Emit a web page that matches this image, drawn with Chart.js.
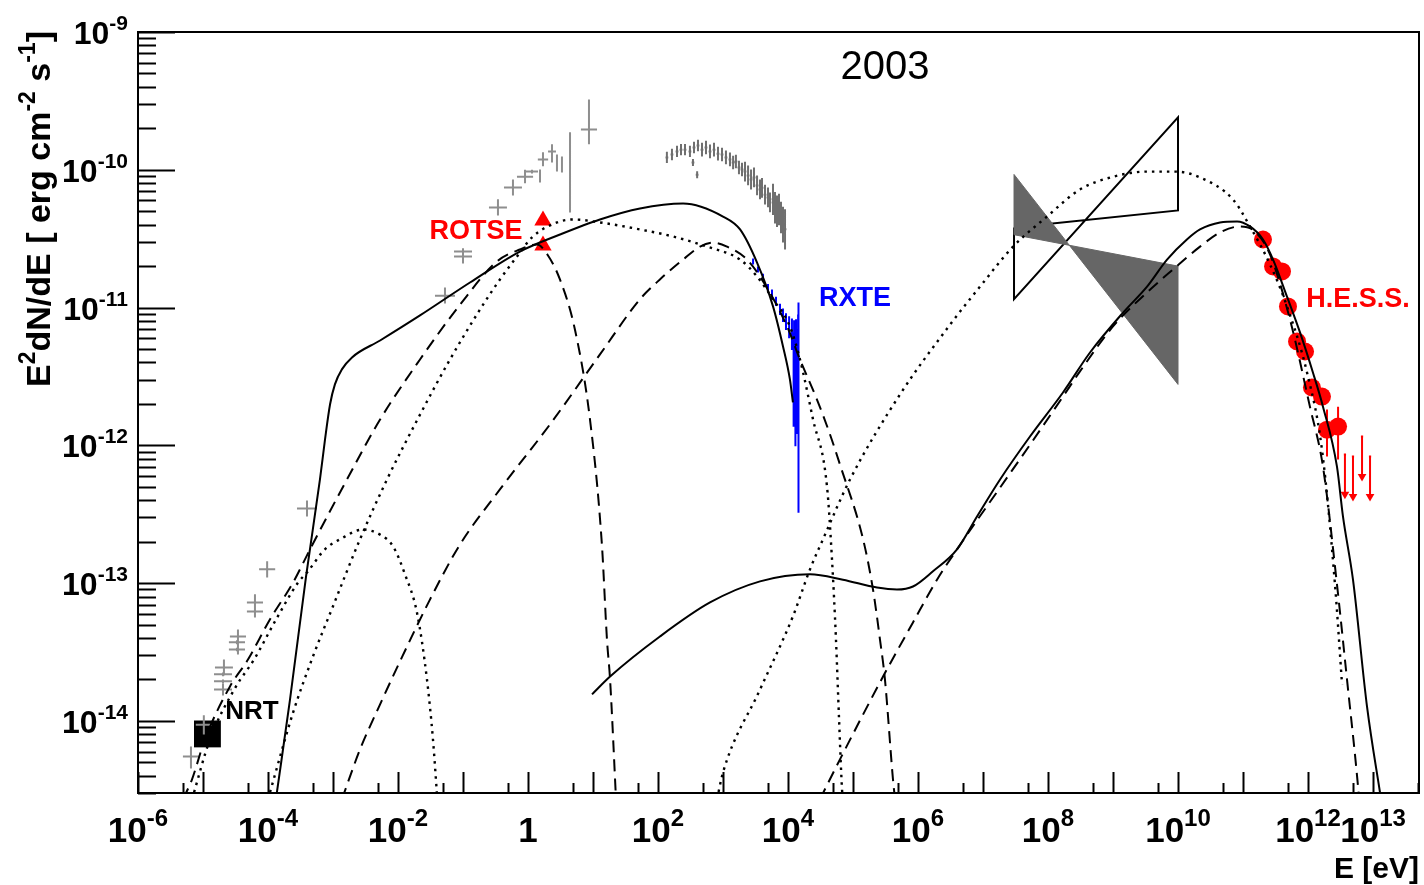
<!DOCTYPE html>
<html>
<head>
<meta charset="utf-8">
<script src="https://cdn.jsdelivr.net/npm/chart.js@4.4.1/dist/chart.umd.min.js"></script>
<style>
  body { margin: 0; background: #fff; overflow: hidden; }
  canvas { display: block; }
</style>
</head>
<body>
<canvas id="sed" width="1424" height="885"></canvas>
<script>
// axis ranges and tick labels (E in eV, E^2 dN/dE in erg cm^-2 s^-1)
const eMin = 1e-6, eMax = 5.1e13;
const fMin = 3e-15, fMax = 1e-9;
const xLabelExps = [-6, -4, -2, 0, 2, 4, 6, 8, 10, 12, 13];
const yLabelExps = [-9, -10, -11, -12, -13, -14];

// model curves
const synTotalE = [1.37e-4, 2.18e-4, 3.85e-4, 6.3e-4, 7.53e-4, 9.0e-4, 1.07e-3, 1.37e-3, 1.96e-3, 5.3e-3, 2.18e-2, 0.128, 0.75, 3.1, 12.8, 52.8, 243, 1000, 1830, 3340, 5880, 8380, 1.07e4, 1.19e4];
const synTotalF = [3.03e-15, 1.43e-14, 1.12e-13, 5.66e-13, 1.10e-12, 1.98e-12, 2.77e-12, 3.56e-12, 4.35e-12, 5.77e-12, 8.77e-12, 1.52e-11, 2.55e-11, 3.39e-11, 4.36e-11, 5.24e-11, 5.69e-11, 4.58e-11, 3.69e-11, 2.12e-11, 1.02e-11, 5.22e-12, 3.01e-12, 2.05e-12];

const synLowE = [4.92e-6, 6.78e-6, 1.07e-5, 2.6e-5, 4.92e-5, 1.07e-4, 2.43e-4, 4.43e-4, 1.64e-3, 5.3e-3, 2.18e-2, 9.0e-2, 0.333, 0.75, 1.37, 2.03, 3.1, 5.28, 8.99, 13.7, 16.4, 18.3, 22.6];
const synLowF = [2.7e-15, 3.77e-15, 7.35e-15, 1.78e-14, 2.79e-14, 5.45e-14, 1.01e-13, 1.76e-13, 5.66e-13, 1.54e-12, 4.2e-12, 1.05e-11, 2.16e-11, 2.64e-11, 2.87e-11, 2.39e-11, 1.60e-11, 6.9e-12, 1.54e-12, 1.91e-13, 3.9e-14, 2.0e-14, 2.7e-15];

const synHighE = [1.37e-3, 2.6e-3, 5.3e-3, 1.07e-2, 3.1e-2, 9.0e-2, 0.37, 2.18, 12.8, 52.8, 107, 243, 443, 702, 1150, 2340, 4430, 9660, 1.53e4, 2.79e4, 4.43e4, 6.3e4, 1.43e5, 2.03e5, 2.6e5, 3.1e5, 4.12e5, 4.43e5];
const synHighF = [2.7e-15, 6.2e-15, 1.32e-14, 2.7e-14, 7.6e-14, 1.91e-13, 4.79e-13, 1.42e-12, 4.57e-12, 1.15e-11, 1.60e-11, 2.23e-11, 2.77e-11, 2.96e-11, 2.77e-11, 2.23e-11, 1.47e-11, 7.3e-12, 4.2e-12, 2.15e-12, 1.2e-12, 7.26e-13, 2.08e-13, 9.0e-14, 3.9e-14, 2.0e-14, 3.77e-15, 2.7e-15];

const synBumpE = [6.78e-6, 1.28e-5, 3.22e-5, 6.1e-5, 1.33e-4, 2.9e-4, 4.12e-4, 7.5e-4, 1.28e-3, 2.9e-3, 5.3e-3, 8.4e-3, 1.28e-2, 1.96e-2, 2.79e-2, 3.45e-2, 3.98e-2];
const synBumpF = [2.7e-15, 7.35e-15, 1.78e-14, 2.79e-14, 5.45e-14, 1.01e-13, 1.22e-13, 1.76e-13, 2.08e-13, 2.45e-13, 2.25e-13, 1.85e-13, 1.16e-13, 6.1e-14, 2.0e-14, 7.35e-15, 2.93e-15];

const synDotE = [1e-4, 2.43e-4, 4.92e-4, 1e-3, 2.6e-3, 6.78e-3, 2.18e-2, 6.3e-2, 0.183, 0.37, 0.678, 1.19, 2.79, 4.92, 12.8, 52.8, 170, 568, 1830, 3340, 5880, 1.07e4, 1.53e4, 2.43e4, 3.98e4, 4.75e4, 5.47e4, 6.1e4, 6.78e4, 7.0e4];
const synDotF = [2.7e-15, 1.15e-14, 2.94e-14, 6.8e-14, 2.08e-13, 5.66e-13, 1.67e-12, 4.2e-12, 9.7e-12, 1.60e-11, 2.35e-11, 3.28e-11, 4.15e-11, 4.36e-11, 4.15e-11, 3.69e-11, 3.28e-11, 2.77e-11, 2.23e-11, 1.68e-11, 1.15e-11, 7.3e-12, 4.2e-12, 1.54e-12, 5.03e-13, 1.49e-13, 3.9e-14, 1.03e-14, 3.18e-15, 2.7e-15];

const icDotE = [809, 1000, 3710, 1.19e4, 2.18e4, 3.45e4, 9.0e4, 5.28e5, 3.1e6, 9.0e6, 2.9e7, 9.66e7, 3.1e8, 1e9, 3.34e9, 9.3e9, 2.18e10, 7.0e10, 1.28e11, 2.6e11, 4.75e11, 9.66e11, 1.64e12, 2.6e12, 3.34e12];
const icDotF = [2.7e-15, 4.23e-15, 1.69e-14, 5.74e-14, 1.26e-13, 2.08e-13, 5.66e-13, 2.34e-12, 7.5e-12, 1.42e-11, 2.77e-11, 4.58e-11, 7.2e-11, 8.9e-11, 9.7e-11, 9.7e-11, 8.8e-11, 6.1e-11, 3.88e-11, 2.06e-11, 1.02e-11, 3.38e-12, 9.3e-13, 9.8e-14, 1.84e-14];

const icDashE = [3.1e4, 6.3e4, 2.9e5, 8.37e5, 1.96e6, 3.98e6, 1.83e7, 5.28e7, 1.7e8, 3.1e8, 1e9, 3.34e9, 8.37e9, 2.18e10, 4.43e10, 9.0e10, 1.53e11, 2.6e11, 5.28e11, 1.07e12, 1.7e12, 2.79e12, 3.98e12, 5.88e12, 6.1e12];
const icDashF = [2.7e-15, 5.26e-15, 2.1e-14, 5.19e-14, 1.06e-13, 1.76e-13, 4.94e-13, 1.01e-12, 2.26e-12, 3.44e-12, 7.3e-12, 1.29e-11, 1.89e-11, 2.77e-11, 3.51e-11, 3.88e-11, 3.56e-11, 2.43e-11, 8.2e-12, 1.91e-12, 7.0e-13, 9.8e-14, 2.0e-14, 3.35e-15, 2.7e-15];

const icTotalE = [9.66, 18.3, 107, 631, 3710, 2.18e4, 7.0e4, 2.34e5, 4.75e5, 8.37e5, 1.7e6, 3.98e6, 8.09e6, 1.83e7, 5.28e7, 1.7e8, 4.43e8, 1.43e9, 3.34e9, 6.78e9, 1.37e10, 2.18e10, 4.43e10, 8.09e10, 1.28e11, 2.03e11, 2.9e11, 4.75e11, 7.53e11, 1.19e12, 1.7e12, 2.79e12, 3.45e12, 4.92e12, 8.09e12, 1.28e13, 1.33e13];
const icTotalF = [1.56e-14, 2.1e-14, 4.1e-14, 7.24e-14, 1.03e-13, 1.16e-13, 1.06e-13, 9.3e-14, 9.0e-14, 9.46e-14, 1.22e-13, 1.76e-13, 3.05e-13, 5.66e-13, 1.16e-12, 2.42e-12, 4.72e-12, 9.2e-12, 1.42e-11, 2.23e-11, 3.12e-11, 3.69e-11, 4.15e-11, 4.22e-11, 3.88e-11, 3.12e-11, 2.23e-11, 1.2e-11, 6.6e-12, 3.38e-12, 1.91e-12, 7.0e-13, 3.05e-13, 1.06e-13, 1.27e-14, 3.03e-15, 2.7e-15];

// radio / IR / optical archival points
const radioE = [6.53e-6, 1.03e-5, 2.03e-5, 2.03e-5, 2.03e-5, 2.1e-5, 3.33e-5, 3.33e-5, 3.45e-5, 6.3e-5, 6.3e-5, 9.7e-5, 3.98e-4, 5.28e-2, 0.1, 0.1, 0.345, 0.587, 0.90, 1.15, 1.53, 1.70, 2.34, 2.79, 3.33, 4.43, 8.67];
const radioF = [5.52e-15, 9.4e-15, 1.69e-14, 1.94e-14, 2.18e-14, 2.44e-14, 3.30e-14, 3.72e-14, 4.1e-14, 6.24e-14, 7.24e-14, 1.26e-13, 3.48e-13, 1.22e-11, 2.35e-11, 2.55e-11, 5.32e-11, 7.45e-11, 8.9e-11, 9.7e-11, 9.1e-11, 1.19e-10, 1.36e-10, 1.13e-10, 1.09e-10, 9.55e-11, 1.96e-10];
const radioFlo = [4.52e-15, 7.98e-15, 1.53e-14, 1.88e-14, 2.11e-14, 2.14e-14, 3.2e-14, 3.6e-14, 3.04e-14, 6.0e-14, 5.64e-14, 1.10e-13, 3.05e-13, 1.07e-11, 2.09e-11, 2.45e-11, 4.66e-11, 6.5e-11, 8.0e-11, 9.4e-11, 8.09e-11, 1.06e-10, 1.13e-10, 9.7e-11, 9.55e-11, 4.9e-11, 1.53e-10];
const radioFhi = [6.53e-15, 1.10e-14, 1.87e-14, 2.0e-14, 2.25e-14, 2.79e-14, 3.4e-14, 3.85e-14, 4.61e-14, 6.5e-14, 8.3e-14, 1.44e-13, 3.98e-13, 1.40e-11, 2.64e-11, 2.7e-11, 6.1e-11, 8.5e-11, 1.0e-10, 1.0e-10, 1.005e-10, 1.34e-10, 1.53e-10, 1.29e-10, 1.25e-10, 1.87e-10, 3.24e-10];
const radioEfac = [1.33, 1.33, 1.375, 1.375, 1.375, 1.375, 1.33, 1.33, 1.33, 1.33, 1.33, 1.33, 1.425, 1.425, 1.375, 1.375, 1.375, 1.375, 1.33, 1.24, 1, 1.2, 1.15, 1, 1, 1, 1.33];

// archival X-ray spectrum (grey)
const xrayE = [137, 164, 196, 226, 260, 310, 358, 412, 475, 547, 631, 727, 837, 966, 1110, 1280, 1430, 1580, 1760, 1960, 2180, 2430, 2700, 3000, 3340, 3710, 3980, 4430, 4920, 5280, 5880, 6310, 6770, 7270, 7800, 8370, 9000, 345, 400];
const xrayF = [1.23e-10, 1.29e-10, 1.36e-10, 1.40e-10, 1.40e-10, 1.36e-10, 1.45e-10, 1.50e-10, 1.40e-10, 1.45e-10, 1.36e-10, 1.40e-10, 1.31e-10, 1.29e-10, 1.23e-10, 1.19e-10, 1.13e-10, 1.15e-10, 1.04e-10, 1.005e-10, 9.7e-11, 9.1e-11, 8.5e-11, 8.8e-11, 7.7e-11, 7.2e-11, 7.4e-11, 6.6e-11, 6.3e-11, 5.8e-11, 6.1e-11, 5.3e-11, 5.0e-11, 5.15e-11, 4.5e-11, 4.0e-11, 3.7e-11, 1.13e-10, 9.2e-11];
const xrayErr = [1.10, 1.10, 1.10, 1.10, 1.10, 1.10, 1.10, 1.10, 1.12, 1.12, 1.12, 1.12, 1.12, 1.12, 1.12, 1.12, 1.12, 1.12, 1.12, 1.12, 1.18, 1.18, 1.18, 1.18, 1.18, 1.18, 1.18, 1.18, 1.18, 1.18, 1.30, 1.30, 1.30, 1.30, 1.30, 1.35, 1.40, 1.06, 1.06];

// RXTE (blue)
const rxteE = [2900, 3450, 4120, 4920, 5670, 6530, 7530, 8370, 9310, 1.04e4, 1.15e4, 1.24e4, 1.33e4, 1.43e4, 1.45e4, 1.22e4, 1.30e4, 1.38e4];
const rxteF = [2.16e-11, 1.89e-11, 1.66e-11, 1.40e-11, 1.25e-11, 1.11e-11, 9.7e-12, 8.8e-12, 7.9e-12, 7.2e-12, 6.4e-12, 5.4e-12, 4.57e-12, 3.56e-12, 1.88e-12, 3.0e-12, 2.68e-12, 2.9e-12];
const rxteErr = [1.05, 1.05, 1.06, 1.06, 1.08, 1.08, 1.10, 1.12, 1.15, 1.20, 1.30, 1.50, 1.80, 2.50, 5.8, 2.2, 2.72, 2.4];

// EGRET butterflies (30 MeV - 10 GeV)
const egretFillE = [3e7, 1e10, 1e10, 3e7, 3e7];
const egretFillF = [9.25e-11, 2.77e-12, 2.0e-11, 3.38e-11, 9.25e-11];
const egretOpenE = [3e7, 1e10, 1e10, 3e7, 3e7];
const egretOpenF = [3.81e-11, 5.07e-11, 2.40e-10, 1.15e-11, 3.81e-11];

// H.E.S.S.
const hessE = [2.03e11, 2.9e11, 3.98e11, 4.92e11, 6.78e11, 9.0e11, 1.15e12, 1.64e12, 1.96e12, 2.9e12];
const hessF = [3.12e-11, 1.99e-11, 1.83e-11, 1.02e-11, 5.68e-12, 4.8e-12, 2.63e-12, 2.26e-12, 1.3e-12, 1.37e-12];
const hessFlo = [2.97e-11, 1.9e-11, 1.74e-11, 9.7e-12, 5.4e-12, 4.57e-12, 2.5e-12, 2.15e-12, 8.3e-13, 7.9e-13];
const hessFhi = [3.28e-11, 2.09e-11, 1.92e-11, 1.07e-11, 5.96e-12, 5.04e-12, 2.76e-12, 2.37e-12, 1.82e-12, 1.91e-12];
const hessUlE = [3.7e12, 4.92e12, 6.78e12, 9.0e12];
const hessUlF = [8.6e-13, 8.3e-13, 1.16e-12, 8.3e-13];

// ROTSE and NRT
const rotseE = [1.70, 1.70];
const rotseF = [4.28e-11, 2.82e-11];
const nrtE = [1.17e-5];
const nrtF = [8.05e-15];

// ---------------------------------------------------------------
const FONT = '"Liberation Sans", Arial, Helvetica, sans-serif';
const DASHED = [12, 7];
const DOTTED = [2.5, 5];
const UL_ARROW = 1.95; // arrow length as a flux ratio

function pts(E, F) {
    return E.map((e, i) => ({x: e, y: F[i]}));
}

// crosses as line pieces separated by gaps
function errorBars(E, F, eLo, eHi, fLo, fHi) {
    const out = [];
    for (let i = 0; i < E.length; i++) {
        if (eLo[i] !== eHi[i]) {
            out.push({x: eLo[i], y: F[i]}, {x: eHi[i], y: F[i]}, {x: E[i], y: null});
        }
        if (fLo[i] !== fHi[i]) {
            out.push({x: E[i], y: fLo[i]}, {x: E[i], y: fHi[i]}, {x: E[i], y: null});
        }
    }
    return out;
}

function curve(E, F, dash, order) {
    return {
        data: pts(E, F), showLine: true, borderColor: '#000',
        borderWidth: dash === DOTTED ? 2.4 : 2,
        borderDash: dash, pointRadius: 0, cubicInterpolationMode: 'monotone',
        fill: false, order: order
    };
}

function bars(data, color, order) {
    return {
        data: data, showLine: true, spanGaps: false, borderColor: color,
        borderWidth: 2, pointRadius: 0, fill: false, order: order
    };
}

const radioBars = errorBars(radioE, radioF,
    radioE.map((e, i) => e / radioEfac[i]), radioE.map((e, i) => e * radioEfac[i]),
    radioFlo, radioFhi);
const xrayBars = errorBars(xrayE, xrayF,
    xrayE.map(e => e / 1.05), xrayE.map(e => e * 1.05),
    xrayF.map((f, i) => f / xrayErr[i]), xrayF.map((f, i) => f * xrayErr[i]));
const rxteBars = errorBars(rxteE, rxteF, rxteE, rxteE,
    rxteF.map((f, i) => f / rxteErr[i]), rxteF.map((f, i) => f * rxteErr[i]));
const hessBars = errorBars(hessE, hessF, hessE, hessE, hessFlo, hessFhi);
const ulBars = errorBars(hessUlE, hessUlF,
    hessUlE.map(e => e / 1.04), hessUlE.map(e => e * 1.04),
    hessUlF.map(f => f / UL_ARROW), hessUlF);

const datasets = [
    curve(synTotalE, synTotalF, [], 1),
    curve(icTotalE, icTotalF, [], 1),
    curve(synLowE, synLowF, DASHED, 2),
    curve(synHighE, synHighF, DASHED, 2),
    curve(icDashE, icDashF, DASHED, 2),
    curve(synBumpE, synBumpF, DOTTED, 2),
    curve(synDotE, synDotF, DOTTED, 2),
    curve(icDotE, icDotF, DOTTED, 2),
    bars(radioBars, '#8e8e8e', 4),
    bars(xrayBars, '#6f6f6f', 4),
    bars(rxteBars, '#0000ff', 4),
    bars(hessBars, '#ff0000', 5),
    bars(ulBars, '#ff0000', 5),
    {
        data: pts(hessUlE, hessUlF.map(f => f / UL_ARROW)), pointStyle: 'triangle', rotation: 180,
        pointRadius: 5, backgroundColor: '#ff0000', borderWidth: 0, order: 5
    },
    {
        data: pts(hessE, hessF), pointStyle: 'circle', pointRadius: 9,
        backgroundColor: '#ff0000', borderWidth: 0, order: 6
    },
    {
        data: pts(rotseE, rotseF), pointStyle: 'triangle', pointRadius: 10,
        backgroundColor: '#ff0000', borderWidth: 0, order: 6
    },
    {
        data: pts(nrtE, nrtF), pointStyle: 'rect', pointRadius: 19,
        backgroundColor: '#000', borderWidth: 0, order: 6
    },
    {
        data: pts(egretFillE, egretFillF), showLine: true, fill: 'shape',
        backgroundColor: '#666666', borderColor: '#666666', borderWidth: 1,
        pointRadius: 0, order: 7
    },
    {
        data: pts(egretOpenE, egretOpenF), showLine: true, fill: false,
        borderColor: '#000', borderWidth: 2, pointRadius: 0, order: 8
    }
];

// text placed on the plot, anchored in data coordinates
const notes = [
    {text: '2003', e: 3.1e5, f: 5.5e-10, color: '#000', font: '40px ' + FONT},
    {text: 'ROTSE', e: 0.158, f: 3.56e-11, color: '#ff0000', font: 'bold 27px ' + FONT},
    {text: 'RXTE', e: 1.07e5, f: 1.16e-11, color: '#0000ff', font: 'bold 27px ' + FONT},
    {text: 'H.E.S.S.', e: 5.88e12, f: 1.15e-11, color: '#ff0000', font: 'bold 27px ' + FONT},
    {text: 'NRT', e: 5.68e-5, f: 1.17e-14, color: '#000', font: 'bold 26px ' + FONT}
];

const notesPlugin = {
    id: 'notes',
    afterDatasetsDraw(chart) {
        const {ctx, scales: {x, y}} = chart;
        ctx.save();
        ctx.textAlign = 'center';
        ctx.textBaseline = 'middle';
        notes.forEach(n => {
            ctx.font = n.font;
            ctx.fillStyle = n.color;
            ctx.fillText(n.text, x.getPixelForValue(n.e), y.getPixelForValue(n.f));
        });
        ctx.restore();
    }
};

function drawPower(ctx, exp, px, baseY, size, supSize, rise, align) {
    const base = exp === 0 ? '1' : '10';
    const sup = exp === 0 ? '' : String(exp);
    ctx.font = 'bold ' + size + 'px ' + FONT;
    const wb = ctx.measureText(base).width;
    ctx.font = 'bold ' + supSize + 'px ' + FONT;
    const ws = sup ? ctx.measureText(sup).width : 0;
    const x0 = align === 'center' ? px - (wb + ws) / 2 : px - wb - ws;
    ctx.font = 'bold ' + size + 'px ' + FONT;
    ctx.fillText(base, x0, baseY);
    if (sup) {
        ctx.font = 'bold ' + supSize + 'px ' + FONT;
        ctx.fillText(sup, x0 + wb, baseY - rise);
    }
}

// ROOT-like frame: ticks inside, labels with exponents
const frame = {
    id: 'rootFrame',
    afterDraw(chart) {
        const {ctx, chartArea: a, scales: {x, y}} = chart;
        ctx.save();
        ctx.strokeStyle = '#000';
        ctx.fillStyle = '#000';
        ctx.lineWidth = 2;
        ctx.strokeRect(a.left, a.top, a.right - a.left, a.bottom - a.top);

        ctx.beginPath();
        for (let e = -15; e <= -9; e++) {
            for (let m = 1; m <= 9; m++) {
                const v = m * Math.pow(10, e);
                if (v < fMin || v > fMax * 1.001) continue;
                const py = Math.round(y.getPixelForValue(v)) + 0.5;
                ctx.moveTo(a.left, py);
                ctx.lineTo(a.left + (m === 1 ? 37 : 18), py);
            }
        }
        for (let e = -6; e <= 13; e++) {
            [1, 5].forEach(m => {
                const v = m * Math.pow(10, e);
                if (v < eMin || v > eMax) return;
                const px = Math.round(x.getPixelForValue(v)) + 0.5;
                ctx.moveTo(px, a.bottom);
                ctx.lineTo(px, a.bottom - (m === 1 ? 21 : 10));
            });
        }
        ctx.stroke();

        ctx.textAlign = 'left';
        ctx.textBaseline = 'alphabetic';
        xLabelExps.forEach(e => {
            drawPower(ctx, e, x.getPixelForValue(Math.pow(10, e)), a.bottom + 49, 35, 24, 16, 'center');
        });
        yLabelExps.forEach(e => {
            drawPower(ctx, e, a.left - 10, y.getPixelForValue(Math.pow(10, e)) + 12, 32, 21, 14, 'right');
        });

        // x title
        ctx.font = 'bold 30px ' + FONT;
        ctx.textAlign = 'right';
        ctx.fillText('E [eV]', a.right, a.bottom + 85);

        // y title, rotated
        ctx.translate(50, 387);
        ctx.rotate(-Math.PI / 2);
        ctx.textAlign = 'left';
        const parts = [['E', false], ['2', true], ['dN/dE [ erg cm', false], ['-2', true], [' s', false], ['-1', true], [']', false]];
        let cx = 0;
        parts.forEach(([t, sup]) => {
            ctx.font = 'bold ' + (sup ? 23 : 34) + 'px ' + FONT;
            ctx.fillText(t, cx, sup ? -15 : 0);
            cx += ctx.measureText(t).width;
        });
        ctx.restore();
    }
};

new Chart(document.getElementById('sed'), {
    type: 'scatter',
    data: {datasets: datasets},
    options: {
        responsive: false,
        animation: false,
        events: [],
        layout: {autoPadding: false, padding: {top: 32, right: 5, left: 0, bottom: 0}},
        plugins: {legend: {display: false}, tooltip: {enabled: false}},
        scales: {
            x: {
                type: 'logarithmic', min: eMin, max: eMax,
                grid: {display: false}, border: {display: false}, ticks: {display: false},
                afterFit: s => { s.height = 92; }
            },
            y: {
                type: 'logarithmic', min: fMin, max: fMax,
                grid: {display: false}, border: {display: false}, ticks: {display: false},
                afterFit: s => { s.width = 138; }
            }
        }
    },
    plugins: [notesPlugin, frame]
});
</script>
</body>
</html>
